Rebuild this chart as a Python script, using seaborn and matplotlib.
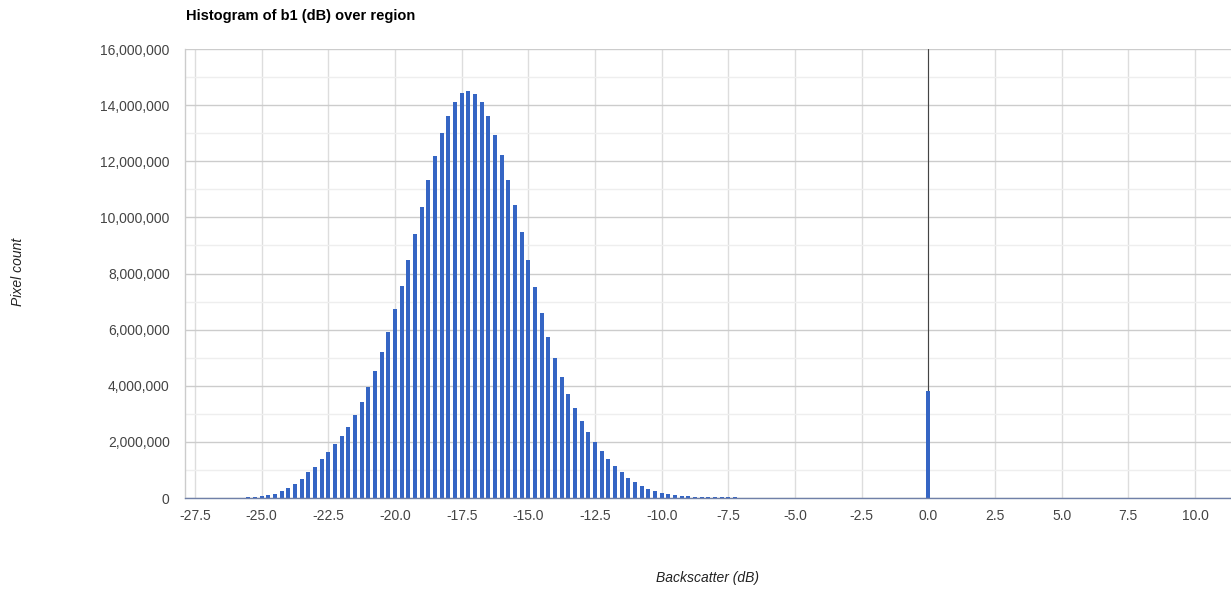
import numpy as np
import pandas as pd
import matplotlib
matplotlib.use("Agg")
import matplotlib.pyplot as plt
from matplotlib.ticker import FuncFormatter, MultipleLocator
import seaborn as sns

# ---------------- data (pixel counts in millions, bins of 0.25 dB) ----------------
bin_start = -27.75
bin_width = 0.25

tail_left = [0.004, 0.004, 0.004, 0.005, 0.005, 0.006, 0.008, 0.011, 0.016, 0.022]  # -27.75 .. -25.5

main_body = [  # -25.25 .. -6.0
    0.03, 0.06, 0.10, 0.15, 0.25, 0.35, 0.49, 0.67, 0.92, 1.10,
    1.38, 1.64, 1.92, 2.22, 2.54, 2.96, 3.41, 3.94, 4.54, 5.21,
    5.92, 6.72, 7.56, 8.48, 9.40, 10.38, 11.33, 12.18, 12.99, 13.62,
    14.12, 14.42, 14.50, 14.38, 14.10, 13.60, 12.95, 12.23, 11.33, 10.43,
    9.47, 8.47, 7.51, 6.60, 5.75, 5.00, 4.32, 3.72, 3.19, 2.75,
    2.35, 2.00, 1.67, 1.40, 1.15, 0.94, 0.72, 0.58, 0.43, 0.32,
    0.26, 0.18, 0.14, 0.11, 0.08, 0.07, 0.05, 0.04, 0.035, 0.03,
    0.025, 0.02, 0.018, 0.015, 0.013, 0.012, 0.011, 0.010,
]

tail_mid = [  # -5.75 .. -0.25
    0.009, 0.009, 0.009, 0.008, 0.008, 0.008, 0.008, 0.007, 0.007, 0.007,
    0.007, 0.007, 0.006, 0.006, 0.006, 0.006, 0.006, 0.006, 0.006, 0.006,
    0.006, 0.006, 0.006,
]

spike_zero = [3.82]  # 0.0

tail_right = [  # 0.25 .. 11.25
    0.006, 0.006, 0.006, 0.006, 0.005, 0.005, 0.005, 0.005, 0.005, 0.005,
    0.005, 0.005, 0.005, 0.005, 0.005, 0.005, 0.005, 0.005, 0.005, 0.005,
    0.005, 0.005, 0.005, 0.005, 0.005, 0.005, 0.005, 0.005, 0.005, 0.005,
    0.005, 0.005, 0.005, 0.005, 0.005, 0.005, 0.005, 0.005, 0.005, 0.005,
    0.005, 0.005, 0.005, 0.005, 0.005,
]

counts_millions = tail_left + main_body + tail_mid + spike_zero + tail_right
bin_centers = [bin_start + i * bin_width for i in range(len(counts_millions))]

x_ticks = [-27.5, -25.0, -22.5, -20.0, -17.5, -15.0, -12.5, -10.0, -7.5, -5.0,
           -2.5, 0.0, 2.5, 5.0, 7.5, 10.0]
y_ticks = [0, 2e6, 4e6, 6e6, 8e6, 10e6, 12e6, 14e6, 16e6]

title = "Histogram of b1 (dB) over region"
x_label = "Backscatter (dB)"
y_label = "Pixel count"

df = pd.DataFrame({"x": bin_centers, "count": [c * 1e6 for c in counts_millions]})

# ---------------- figure ----------------
sns.set_theme(style="white")
plt.rcParams["font.family"] = ["Liberation Sans", "DejaVu Sans"]

W, H = 1231, 590
fig = plt.figure(figsize=(W / 100, H / 100), dpi=100)
ax = fig.add_axes([185 / W, 1 - 498 / H, (W - 185) / W, (498 - 49) / H])

sns.barplot(data=df, x="x", y="count", native_scale=True, width=0.6,
            color="#3565c4", saturation=1, errorbar=None, ax=ax, zorder=3,
            linewidth=0)

ax.set_xlim(-27.875, 11.35)
ax.set_ylim(0, 16e6)

ax.set_xticks(x_ticks)
ax.set_xticklabels([f"{t:.1f}" for t in x_ticks])
ax.set_yticks(y_ticks)
ax.yaxis.set_major_formatter(FuncFormatter(lambda v, p: f"{int(v):,}"))
ax.yaxis.set_minor_locator(MultipleLocator(1e6))

ax.grid(axis="y", which="major", color="#cccccc", linewidth=1, zorder=0)
ax.grid(axis="y", which="minor", color="#eeeeee", linewidth=1, zorder=0)
ax.grid(axis="x", which="major", color="#dddddd", linewidth=1, zorder=0)
ax.set_axisbelow(True)

ax.axvline(0, color="#444444", linewidth=0.8, zorder=2)

ax.tick_params(axis="both", which="both", length=0, labelsize=10,
               labelcolor="#444444")
ax.tick_params(axis="y", pad=11)
ax.tick_params(axis="x", pad=8)

for s in ["top", "right"]:
    ax.spines[s].set_visible(False)
ax.spines["left"].set_color("#cccccc")
ax.spines["left"].set_linewidth(1)
ax.spines["bottom"].set_color("#7080a8")
ax.spines["bottom"].set_linewidth(1)
ax.spines["bottom"].set_zorder(4)

ax.set_xlabel("")
ax.set_ylabel("")

fig.text(186 / W, 1 - 16 / H, title, ha="left", va="center", fontsize=10.5,
         fontweight="bold", color="#000000")
fig.text(18 / W, 1 - 272 / H, y_label, ha="center", va="center", rotation=90,
         fontsize=10, style="italic", color="#222222")
fig.text(708 / W, 1 - 578 / H, x_label, ha="center", va="center",
         fontsize=10, style="italic", color="#222222")

fig.savefig("out.png", dpi=100)
